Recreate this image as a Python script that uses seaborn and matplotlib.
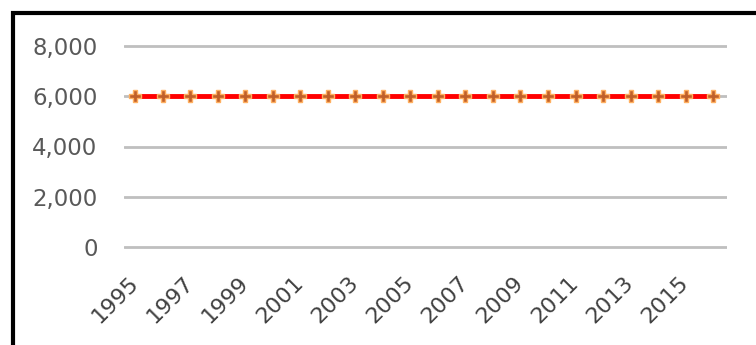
import matplotlib
matplotlib.use("Agg")
import matplotlib.pyplot as plt
import matplotlib.ticker as mticker
from matplotlib.patches import Rectangle
import numpy as np
import pandas as pd
import seaborn as sns

# Annual series, 1995-2016
years = list(range(1995, 2017))
values = [6000] * len(years)
y_ticks = [0, 2000, 4000, 6000, 8000]
x_ticks = list(range(1995, 2016, 2))

df = pd.DataFrame({"year": years, "value": values})

sns.set_style("white")
plt.rcParams["font.family"] = ["DejaVu Sans"]

fig = plt.figure(figsize=(7.56, 3.45), dpi=100)
ax = fig.add_axes([124 / 756, 1 - 252 / 345, (727 - 124) / 756, (252 - 41) / 345])

sns.lineplot(data=df, x="year", y="value", ax=ax, color="#ff0000", linewidth=3.5,
             marker="P", markersize=8.5, markerfacecolor="#c0602a",
             markeredgecolor="#ffb060", markeredgewidth=1.0, zorder=3)

ax.set_xlim(1994.6, 2016.5)
ax.set_ylim(-200, 8200)
ax.set_yticks(y_ticks)
ax.set_xticks(x_ticks)
ax.yaxis.set_major_formatter(mticker.FuncFormatter(lambda v, p: f"{int(v):,}"))
ax.grid(axis="y", color="#bfbfbf", linewidth=2.0, zorder=0)
ax.grid(axis="x", visible=False)
for s in ax.spines.values():
    s.set_visible(False)
ax.tick_params(axis="both", length=0)
ax.tick_params(axis="y", labelsize=16.5, labelcolor="#595959", pad=19)
ax.tick_params(axis="x", labelsize=16, labelcolor="#404040", pad=20)
for lab in ax.get_xticklabels():
    lab.set_rotation(45)
    lab.set_ha("right")
    lab.set_va("center")
    lab.set_rotation_mode("anchor")
ax.set_xlabel("")
ax.set_ylabel("")

# Chart frame
fig.patches.append(Rectangle((12.5 / 756, -0.1), 1.2, 1 - 12.5 / 345 + 0.1,
                             transform=fig.transFigure, fill=False,
                             edgecolor="black", linewidth=3, zorder=10))

fig.savefig("out.png", dpi=100)
